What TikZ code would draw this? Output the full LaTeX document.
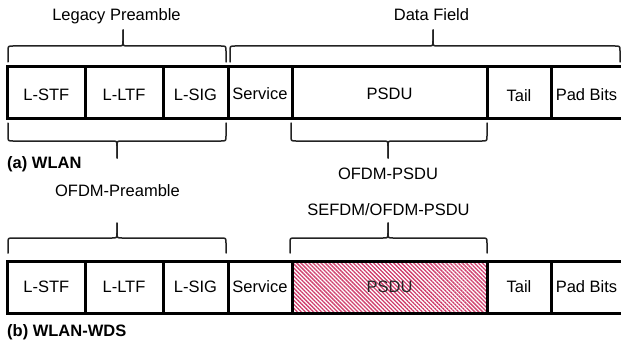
\documentclass[tikz,border=0pt]{standalone}
\usepackage{fontspec}
\setmainfont{Liberation Sans}
\usetikzlibrary{patterns.meta,calc}
\definecolor{hatch}{RGB}{206,62,108}
\definecolor{bracecol}{RGB}{35,35,35}
\tikzset{
  cell/.style={draw=black, line width=3pt, rectangle, inner sep=0pt, outer sep=0pt,
               minimum height=52pt, anchor=west},
  lbl/.style={font=\fontsize{16.5}{19}\selectfont, inner sep=0pt, anchor=base, text=black},
  capt/.style={font=\fontsize{16.5}{19}\selectfont\bfseries, inner sep=0pt, anchor=base west},
  bracestyle/.style={draw=bracecol, line width=1.5pt, line cap=round, line join=round},
  hatched/.style={pattern={Lines[angle=-45,distance=2.85pt,line width=1.3pt]}, pattern color=hatch}
}
% #1 x1, #2 x2, #3 xm, #4 yEnd, #5 yHoriz, #6 yTip, #7 signed radius
\newcommand{\mybrace}[7]{%
  \draw[bracestyle] (#1,#4) -- (#1,{#5+(#7)}) .. controls (#1,#5) .. ({#1+5},#5)
     -- ({#3-5},#5) .. controls (#3,#5) .. (#3,{#5-(#7)}) -- (#3,#6);
  \draw[bracestyle] (#2,#4) -- (#2,{#5+(#7)}) .. controls (#2,#5) .. ({#2-5},#5)
     -- ({#3+5},#5) .. controls (#3,#5) .. (#3,{#5-(#7)}) -- (#3,#6);
}
\begin{document}
\begin{tikzpicture}[x=1pt,y=-1pt]
\useasboundingbox (0,0) rectangle (621,345);

% ---- row (a) ----
\node[cell, minimum width=77.5pt] (a1) at (7.5,92.5) {};
\node[cell, minimum width=78pt]   (a2) at (85,92.5) {};
\node[cell, minimum width=65pt]   (a3) at (163,92.5) {};
\node[cell, minimum width=64pt]   (a4) at (228,92.5) {};
\node[cell, minimum width=195pt]  (a5) at (292,92.5) {};
\node[cell, minimum width=64pt]   (a6) at (487,92.5) {};
\node[cell, minimum width=71pt]   (a7) at (551,92.5) {};

\node[lbl] (ta1) at ($(a1.center)+(0,8)$) {L-STF};
\node[lbl] (ta2) at ($(a2.center)+(0,8)$) {L-LTF};
\node[lbl] (ta3) at ($(a3.center)+(0,8)$) {L-SIG};
\node[lbl] (ta4) at ($(a4.center)+(0,7)$) {Service};
\node[lbl] (ta5) at ($(a5.center)+(0,7)$) {PSDU};
\node[lbl] (ta6) at ($(a6.center)+(0,8.5)$) {Tail};
\node[lbl] (ta7) at ($(a7.center)+(0,7.5)$) {Pad Bits};

% ---- row (b) ----
\node[cell, minimum width=77.5pt] (b1) at (7.5,287) {};
\node[cell, minimum width=78pt]   (b2) at (85,287) {};
\node[cell, minimum width=65pt]   (b3) at (163,287) {};
\node[cell, minimum width=64pt]   (b4) at (228,287) {};
\node[cell, minimum width=195pt, hatched] (b5) at (292,287) {};
\node[cell, minimum width=64pt]   (b6) at (487,287) {};
\node[cell, minimum width=71pt]   (b7) at (551,287) {};

\node[lbl] (tb1) at ($(b1.center)+(0,5)$) {L-STF};
\node[lbl] (tb2) at ($(b2.center)+(0,5)$) {L-LTF};
\node[lbl] (tb3) at ($(b3.center)+(0,5)$) {L-SIG};
\node[lbl] (tb4) at ($(b4.center)+(0,5)$) {Service};
\node[lbl, text=black!85] (tb5) at ($(b5.center)+(0,5.5)$) {PSDU};
\node[lbl] (tb6) at ($(b6.center)+(0,5.5)$) {Tail};
\node[lbl] (tb7) at ($(b7.center)+(0,5)$) {Pad Bits};

% ---- braces ----
\mybrace{8}{226}{123}{62}{46}{30}{5}
\mybrace{230}{620}{433}{62}{46}{30}{5}
\mybrace{8}{226}{117}{123}{141}{158}{-5}
\mybrace{291}{487}{388}{123}{141}{158}{-5}
\mybrace{8}{226}{117}{253}{238}{223}{5}
\mybrace{290}{487}{388}{253}{238}{223}{5}

% ---- texts ----
\node[lbl] (tLegacy) at (116.5,21) {Legacy Preamble};
\node[lbl] (tData) at (431.5,21) {Data Field};
\node[capt] (capA) at (7,168) {(a) WLAN};
\node[lbl] (tOPSDU) at (388,179.5) {OFDM-PSDU};
\node[lbl] (tOPre) at (117.5,196.5) {OFDM-Preamble};
\node[lbl] (tSE) at (388.5,215) {SEFDM/OFDM-PSDU};
\node[capt] (capB) at (7,336.5) {(b) WLAN-WDS};
\end{tikzpicture}
\end{document}
